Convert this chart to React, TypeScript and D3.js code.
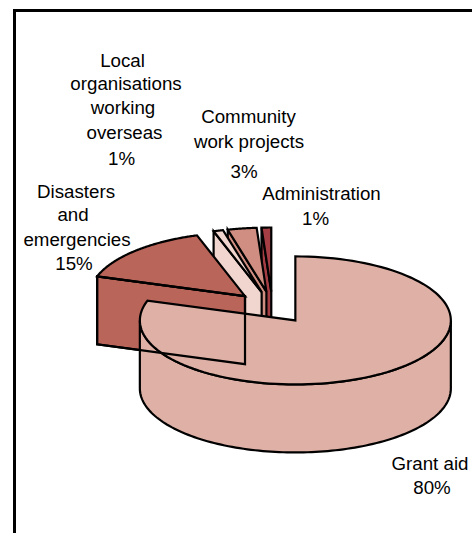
import React from "react";
import * as d3 from "d3";

const categories = [
  "Grant aid",
  "Disasters and emergencies",
  "Local organisations working overseas",
  "Community work projects",
  "Administration",
];
const shares = [80, 15, 1, 3, 1];
const sliceColours = ["#DFB1A6", "#BA655A", "#F0D6CE", "#CF8E81", "#A53D45"];

// Label lines as the chart breaks them.
const labelLines = [
  ["Grant aid", "80%"],
  ["Disasters", "and", "emergencies", "15%"],
  ["Local", "organisations", "working", "overseas", "1%"],
  ["Community", "work projects", "3%"],
  ["Administration", "1%"],
];
// Centre and baseline of every label line.
const lineCentres = [
  [430, 432],
  [76, 73, 77, 74],
  [122.5, 126, 123, 124.5, 121.5],
  [248.5, 249, 244],
  [321.5, 315.5],
];
const lineBaselines = [
  [470, 494],
  [198, 221, 246, 270],
  [66.5, 90, 114, 139, 165],
  [122.5, 147.5, 178],
  [200, 225],
];

const W = 472;
const H = 533;
const CX = 272.5;
const CY = 307.5;
const RX = 155.5;
const RY = 64;
const DEPTH = 68;
const EXPLODE = 0.25;
const FONT_SIZE = 17.5;
const TEXT_STRETCH = 1.07;

type Pt = [number, number];

const x = d3.scaleLinear().domain([-1, 1]).range([-RX, RX]);
const y = d3.scaleLinear().domain([-1, 1]).range([-RY, RY]);

// Point on the rim of a slice's top face, with angles clockwise from twelve o'clock.
const rim = (c: Pt, a: number): Pt => [c[0] + x(Math.sin(a)), c[1] + y(-Math.cos(a))];

const rimArc = (c: Pt, a0: number, a1: number): Pt[] =>
  d3.range(0, 121).map((i) => rim(c, a0 + ((a1 - a0) * i) / 120));

const toPath = d3.line<Pt>();

const lower = (pts: Pt[]): Pt[] => pts.map(([px, py]) => [px, py + DEPTH]);

const pieLayout = d3.pie<number>().sort(null).value((d) => d);

export default function App() {
  const arcs = pieLayout(shares).map((a, i) => {
    const mid = (a.startAngle + a.endAngle) / 2;
    const apex: Pt = [CX + x(Math.sin(mid)) * EXPLODE, CY + y(-Math.cos(mid)) * EXPLODE];
    const top = [apex, ...rimArc(apex, a.startAngle, a.endAngle)];
    return { i, apex, top, a0: a.startAngle, a1: a.endAngle };
  });

  const stroke = { stroke: "#000", strokeWidth: 2.2, strokeLinejoin: "miter" as const };

  // Cut face on the leading edge of a slice, running from rim to apex.
  const cutFace = (s: (typeof arcs)[number]): Pt[] => {
    const edge = rim(s.apex, s.a0);
    return [edge, s.apex, ...lower([s.apex, edge])];
  };

  const main = arcs[0];
  const disaster = arcs[1];
  const disasterCut = cutFace(disaster);

  // Outer wall of the large slice: only the near half of the ellipse faces the viewer.
  const wallTop = rimArc(main.apex, Math.PI / 2, (3 * Math.PI) / 2);
  const wall = [...wallTop, ...lower(wallTop).reverse()];

  return (
    <svg
      width={W}
      height={H}
      viewBox={`0 0 ${W} ${H}`}
      style={{ position: "absolute", left: 0, top: 0, background: "#fff" }}
    >
      <path d="M14.5 533V10.5H472" fill="none" stroke="#000" strokeWidth={3} />

      {/* small slices from back to front */}
      {[arcs[4], arcs[3], arcs[2]].map((s) => (
        <g key={s.i}>
          <path d={toPath(cutFace(s)) + "Z"} fill={sliceColours[s.i]} {...stroke} />
          <path d={toPath(s.top) + "Z"} fill={sliceColours[s.i]} {...stroke} />
        </g>
      ))}

      <path d={toPath(disasterCut) + "Z"} fill={sliceColours[1]} {...stroke} />
      <path d={toPath(disaster.top) + "Z"} fill={sliceColours[1]} {...stroke} />

      <path d={toPath(wall) + "Z"} fill={sliceColours[0]} {...stroke} />
      <path d={toPath(main.top) + "Z"} fill={sliceColours[0]} {...stroke} />

      {/* the hidden edges of the disasters slice stay visible through the large slice */}
      <path d={toPath(disasterCut) + "Z"} fill="none" {...stroke} />

      {labelLines.map((lines, i) => (
        <g key={categories[i]}>
          {lines.map((line, j) => (
            <text
              key={j}
              transform={`translate(${lineCentres[i][j]},${lineBaselines[i][j]}) scale(${TEXT_STRETCH},1)`}
              textAnchor="middle"
              fontFamily="'Liberation Sans', Arial, sans-serif"
              fontSize={FONT_SIZE}
              fill="#000"
            >
              {line}
            </text>
          ))}
        </g>
      ))}
    </svg>
  );
}
